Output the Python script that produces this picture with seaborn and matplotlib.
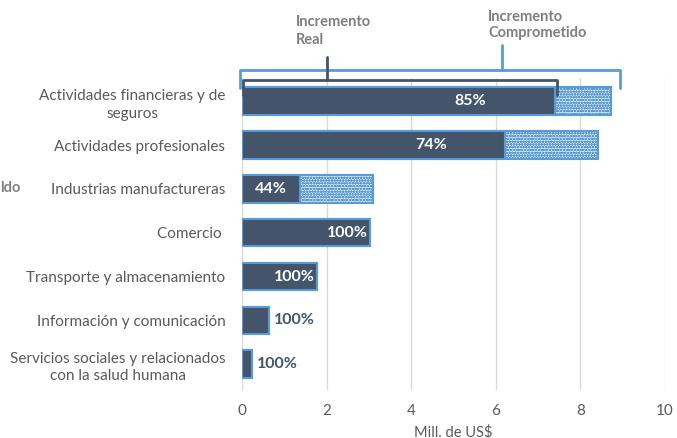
import numpy as np
import pandas as pd
import matplotlib
matplotlib.use("Agg")
import matplotlib.pyplot as plt
import matplotlib.transforms as mtransforms
import seaborn as sns

categories = [
    "Actividades financieras y de\nseguros",
    "Actividades profesionales",
    "Industrias manufactureras",
    "Comercio ",
    "Transporte y almacenamiento",
    "Información y comunicación",
    "Servicios sociales y relacionados\ncon la salud humana",
]
comprometido = [8.72, 8.42, 3.10, 3.03, 1.77, 0.64, 0.24]
real = [7.40, 6.22, 1.37, 3.03, 1.77, 0.64, 0.24]
pct_labels = ["85%", "74%", "44%", "100%", "100%", "100%", "100%"]
x_ticks = [0, 2, 4, 6, 8, 10]

sns.set_theme(style="white")
plt.rcParams["font.family"] = ["Lato", "DejaVu Sans"]
plt.rcParams["hatch.linewidth"] = 0.8

DARK = "#44546A"
BLUE = "#5B9BD5"
GRAY = "#595959"

df = pd.DataFrame({"cat": categories, "comp": comprometido, "real": real})

fig = plt.figure(figsize=(6.77, 4.38), dpi=100)
ax = fig.add_axes([0.3575, 0.1096, 0.6248, 0.7123])

sns.barplot(data=df, y="cat", x="comp", orient="h", ax=ax, color="white",
            edgecolor=BLUE, linewidth=1.5, width=0.63, hatch="oooooo", zorder=2)
sns.barplot(data=df, y="cat", x="real", orient="h", ax=ax, color=DARK,
            edgecolor=BLUE, linewidth=1.5, width=0.63, zorder=3, saturation=1)
for p in ax.patches[:len(categories)]:
    p.set_facecolor("#EAF2FA")
    p.set_edgecolor(BLUE)
for p in ax.patches[len(categories):]:
    p.set_facecolor(DARK)
    p.set_edgecolor(BLUE)

ax.set_xlim(0, 10)
ax.set_ylim(6.59, -0.53)
ax.set_xticks(x_ticks)
ax.set_xticklabels([str(t) for t in x_ticks], color=GRAY, fontsize=11)
ax.tick_params(axis="x", length=0, pad=10)
ax.tick_params(axis="y", length=0, pad=12)
for lab in ax.get_yticklabels():
    lab.set_color(GRAY)
    lab.set_fontsize(11)
    lab.set_multialignment("center")
    lab.set_linespacing(1.35)
ax.set_ylabel("")
ax.set_xlabel("Mill. de US$", color=GRAY, fontsize=10.5)
ax.xaxis.set_label_coords(0.5, -0.135)
ax.xaxis.label.set_va("center")
ax.grid(axis="x", color="#D9D9D9", linewidth=1, zorder=0)
ax.set_axisbelow(True)
for s in ax.spines.values():
    s.set_visible(False)

# percentage labels
for i, (r, c, lab) in enumerate(zip(real, comprometido, pct_labels)):
    if r >= 1.0:
        xpos = r * 0.78 if r < c else r - 0.05
        ax.text(xpos, i, lab, ha="right", va="center", color="white",
                fontsize=11.5, fontweight="bold", zorder=5)
    else:
        ax.text(r + 0.12, i, lab, ha="left", va="center", color=DARK,
                fontsize=11.5, fontweight="bold", zorder=5)

# brackets
trans = mtransforms.blended_transform_factory(ax.transData, ax.transAxes)

def bracket(x0, x1, y, yhook, xmid, ytop, color):
    ax.plot([x0, x0, x1, x1], [yhook, y, y, yhook], color=color, lw=2,
            transform=trans, clip_on=False, zorder=6, solid_joinstyle="round")
    ax.plot([xmid, xmid], [y, ytop], color=color, lw=2, transform=trans,
            clip_on=False, zorder=6)

bracket(-0.05, comprometido[0] + 0.22, 1.026, 0.968, 6.15, 1.106, BLUE)
bracket(0.02, real[0] + 0.05, 0.994, 0.946, 2.0, 1.067, DARK)

ax.text(1.28, 1.15, "Incremento\nReal", transform=trans, ha="left", va="center",
        color="#7F7F7F", fontsize=10.5, fontweight="bold", linespacing=1.4)
ax.text(5.82, 1.17, "Incremento\nComprometido", transform=trans, ha="left",
        va="center", color="#7F7F7F", fontsize=10.5, fontweight="bold",
        linespacing=1.25)

fig.text(0.0, 0.571, "ldo", ha="left", va="center", color="#7F7F7F",
         fontsize=10.5, fontweight="bold")

fig.savefig("out.png", dpi=100)
